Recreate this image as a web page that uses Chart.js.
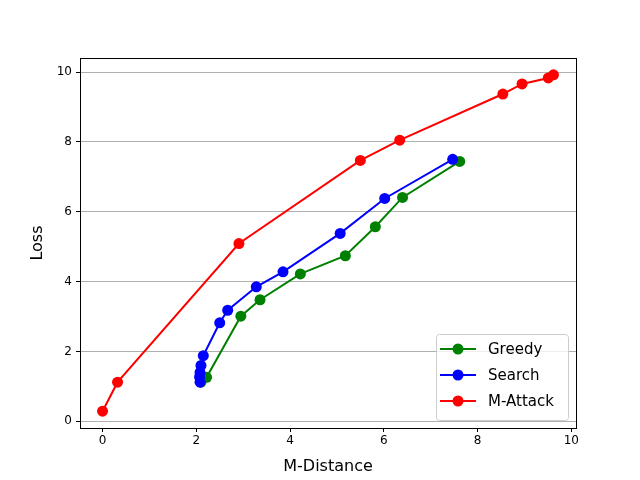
<!DOCTYPE html>
<html lang="en">
<head>
    <meta charset="UTF-8">
    <script src="https://cdn.jsdelivr.net/npm/chart.js"></script>
    <title>Loss vs M-Distance</title>
    <style>
        body { margin: 0; background: #fff; }
        #wrap { width: 640px; height: 480px; }
    </style>
</head>
<body>
<div id="wrap"><canvas id="chart" width="640" height="480"></canvas></div>
<script>
// values
const seriesNames = ['Greedy', 'Search', 'M-Attack'];
const seriesColors = ['#008000', '#0000ff', '#ff0000'];

const greedyX = [2.10, 2.22, 2.95, 3.36, 4.22, 5.18, 5.82, 6.40, 7.62];
const greedyY = [1.12, 1.26, 3.01, 3.48, 4.22, 4.74, 5.57, 6.41, 7.44];

const searchX = [2.08, 2.07, 2.08, 2.10, 2.15, 2.50, 2.67, 3.28, 3.85, 5.07, 6.02, 7.47];
const searchY = [1.12, 1.27, 1.40, 1.60, 1.88, 2.82, 3.18, 3.85, 4.28, 5.38, 6.38, 7.50];

const attackX = [0.00, 0.32, 2.91, 5.50, 6.34, 8.54, 8.95, 9.51, 9.62];
const attackY = [0.29, 1.12, 5.09, 7.47, 8.05, 9.37, 9.66, 9.83, 9.92];

const xTicks = [0, 2, 4, 6, 8, 10];
const yTicks = [0, 2, 4, 6, 8, 10];

const FONT = 'DejaVu Sans';

function toPoints(xs, ys) {
    return xs.map((x, i) => ({ x: x, y: ys[i] }));
}

const allX = [...greedyX, ...searchX, ...attackX];
const allY = [...greedyY, ...searchY, ...attackY];
const xPad = (Math.max(...allX) - Math.min(...allX)) * 0.05;
const yPad = (Math.max(...allY) - Math.min(...allY)) * 0.05;

function keepTicks(list) {
    return function (scale) {
        scale.ticks = list.map(v => ({ value: v }));
    };
}

// box around plot + legend in lower right, like matplotlib
const framePlugin = {
    id: 'frame',
    afterDraw(chart) {
        const ctx = chart.ctx;
        const a = chart.chartArea;
        ctx.save();
        ctx.strokeStyle = '#000';
        ctx.lineWidth = 1;
        ctx.strokeRect(a.left + 0.5, a.top + 0.5, a.right - a.left, a.bottom - a.top);

        const w = 132, h = 86;
        const bx = a.right - 8 - w, by = a.bottom - 8 - h;
        ctx.fillStyle = 'rgba(255,255,255,0.8)';
        ctx.strokeStyle = '#cccccc';
        ctx.beginPath();
        ctx.roundRect(bx + 0.5, by + 0.5, w, h, 3);
        ctx.fill();
        ctx.stroke();

        ctx.font = '15px ' + FONT;
        ctx.textBaseline = 'middle';
        seriesNames.forEach((name, i) => {
            const yy = by + 15 + i * 26;
            ctx.strokeStyle = seriesColors[i];
            ctx.lineWidth = 2;
            ctx.beginPath();
            ctx.moveTo(bx + 4, yy);
            ctx.lineTo(bx + 40, yy);
            ctx.stroke();
            ctx.fillStyle = seriesColors[i];
            ctx.beginPath();
            ctx.arc(bx + 22, yy, 5.5, 0, Math.PI * 2);
            ctx.fill();
            ctx.fillStyle = '#000';
            ctx.fillText(name, bx + 52, yy + 1);
        });
        ctx.restore();
    }
};

const datasets = [greedyX, searchX, attackX].map((xs, i) => {
    const ys = [greedyY, searchY, attackY][i];
    return {
        label: seriesNames[i],
        data: toPoints(xs, ys),
        showLine: true,
        borderColor: seriesColors[i],
        backgroundColor: seriesColors[i],
        borderWidth: 2,
        pointRadius: 5.5,
        pointBorderWidth: 0,
        pointHoverRadius: 5.5,
        order: 3 - i
    };
});

new Chart(document.getElementById('chart'), {
    type: 'scatter',
    data: { datasets: datasets },
    plugins: [framePlugin],
    options: {
        responsive: false,
        animation: false,
        layout: { padding: { left: 24, top: 58, right: 64, bottom: 0 } },
        plugins: {
            legend: { display: false },
            tooltip: { enabled: false }
        },
        scales: {
            x: {
                type: 'linear',
                min: Math.min(...allX) - xPad,
                max: Math.max(...allX) + xPad,
                afterBuildTicks: keepTicks(xTicks),
                afterFit(scale) { scale.height = 52; },
                grid: { drawOnChartArea: false, tickLength: 4, tickColor: '#000' },
                border: { display: false },
                ticks: { color: '#000', font: { family: FONT, size: 12 }, padding: 2, maxRotation: 0 },
                title: { display: true, text: 'M-Distance', color: '#000', font: { family: FONT, size: 16 }, padding: { top: 1 } }
            },
            y: {
                type: 'linear',
                min: Math.min(...allY) - yPad,
                max: Math.max(...allY) + yPad,
                afterBuildTicks: keepTicks(yTicks),
                afterFit(scale) { scale.width = 56; },
                grid: { color: '#b0b0b0', lineWidth: 1, tickLength: 4, tickColor: '#000' },
                border: { display: false },
                ticks: { color: '#000', font: { family: FONT, size: 12 }, padding: 4 },
                title: { display: true, text: 'Loss', color: '#000', font: { family: FONT, size: 16 }, padding: { bottom: 4 } }
            }
        }
    }
});
</script>
</body>
</html>
